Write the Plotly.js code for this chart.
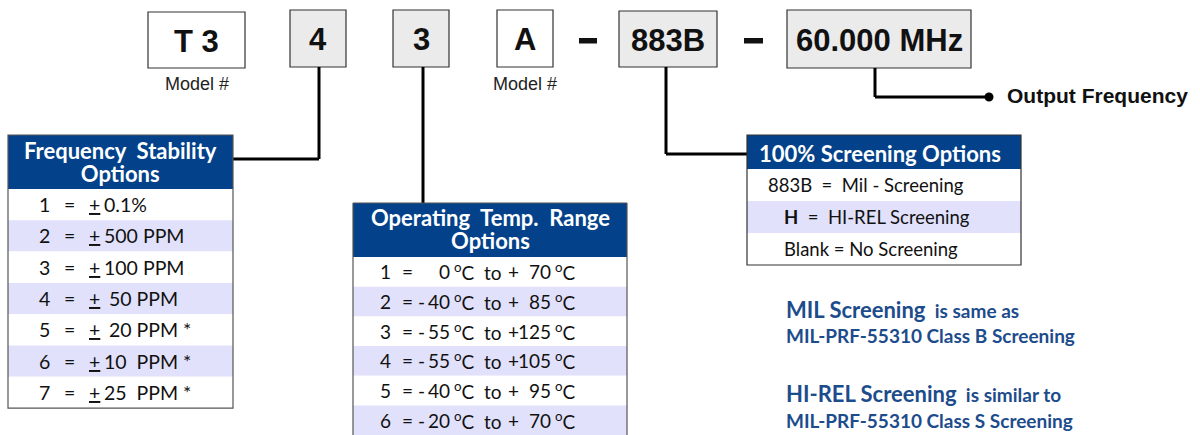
<!DOCTYPE html>
<html>
<head>
<meta charset="utf-8">
<script src="https://cdn.plot.ly/plotly-3.0.1.min.js"></script>
<style>html,body{margin:0;padding:0;background:#fff;}#chart{width:1200px;height:435px;}</style>
</head>
<body>
<div id="chart"></div>
<script>
// ---------- DATA ----------
const partCodes = ["T 3", "4", "3", "A", "883B", "60.000 MHz"];
const partCaptions = ["Model #", "", "", "Model #", "", ""];
const outputLabel = "Output Frequency";

const stabilityTitle = ["Frequency\u00a0 Stability", "Options"];
const stabilityCodes = ["1", "2", "3", "4", "5", "6", "7"];
const stabilityValues = ["0.1%", "500 PPM", "100 PPM", "\u00a050 PPM", "\u00a020 PPM *", "10\u00a0 PPM *", "25\u00a0 PPM *"];

const tempTitle = ["Operating\u00a0 Temp.\u00a0 Range", "Options"];
const tempCodes = ["1", "2", "3", "4", "5", "6"];
const tempFrom = [0, -40, -55, -55, -40, -20];
const tempTo = [70, 85, 125, 105, 95, 70];

const screeningTitle = "100% Screening Options";
const screeningCodes = ["883B", "H", "Blank"];
const screeningDesc = ["Mil - Screening", "HI-REL Screening", "No Screening"];

const noteLines = [
  ["MIL Screening", "is same as"],
  ["MIL-PRF-55310 Class B Screening", ""],
  ["HI-REL Screening", "is similar to"],
  ["MIL-PRF-55310 Class S Screening", ""]
];

// ---------- LAYOUT / STYLE ----------
const NAVY = "#03428a";
const SHADE = "#e1e1fb";
const GRAY = "#ebebeb";
const NOTE = "#1d4c8c";
const CAL = "Lato, 'Open Sans', sans-serif";
const ARIAL = "'Liberation Sans', Arial, sans-serif";
const ROW = 19.5, TROW = 19, HEAD = 22;

const partBoxes = [
  {x0: 148, x1: 245, y0: 12, y1: 68, fill: "#ffffff"},
  {x0: 290, x1: 346, y0: 10, y1: 67, fill: GRAY},
  {x0: 393, x1: 449, y0: 10, y1: 67, fill: GRAY},
  {x0: 497, x1: 553, y0: 10, y1: 67, fill: "#ffffff"},
  {x0: 619, x1: 717, y0: 11, y1: 67, fill: GRAY},
  {x0: 787, x1: 971, y0: 10, y1: 68, fill: GRAY}
];
const dashes = [[579, 597], [744, 763]];

const shapes = [];
const ann = [];
function rect(x0, y0, x1, y1, fill, lineColor, lw) {
  shapes.push({type: "rect", xref: "x", yref: "y", x0, y0, x1, y1,
    fillcolor: fill, line: {color: lineColor || "rgba(0,0,0,0)", width: lw || 0}, layer: "below"});
}
function line(pts, w) {
  for (let i = 0; i < pts.length - 1; i++) {
    shapes.push({type: "line", xref: "x", yref: "y", x0: pts[i][0], y0: pts[i][1],
      x1: pts[i + 1][0], y1: pts[i + 1][1], line: {color: "#000", width: w || 3}});
  }
}
function txt(x, y, text, size, opts) {
  opts = opts || {};
  ann.push({xref: "x", yref: "y", x, y, text, showarrow: false,
    xanchor: opts.xa || "left", yanchor: "middle",
    font: {family: opts.family || CAL, size, color: opts.color || "#111"}});
}
// two-line header: base font small so that line spacing (1.3em) is tight, glyphs drawn at HEAD size
function header2(x, y, lines) {
  const s = lines.map(l => "<span style='font-size:" + HEAD + "px'>" + l + "</span>").join("<br>");
  txt(x, y, "<b>" + s + "</b>", 17.8, {xa: "center", color: "#fff"});
}

// top part-number boxes
partCodes.forEach((c, i) => {
  const b = partBoxes[i];
  rect(b.x0, b.y0, b.x1, b.y1, b.fill, "#333", 1.2);
  txt((b.x0 + b.x1) / 2, (b.y0 + b.y1) / 2 + 1, "<b>" + c + "</b>", 31, {xa: "center", family: ARIAL, color: "#111"});
  if (partCaptions[i]) txt((b.x0 + b.x1) / 2, 84, partCaptions[i], 18, {xa: "center", family: ARIAL, color: "#222"});
});
dashes.forEach(d => rect(d[0], 38, d[1], 43.5, "#111"));

// connectors
line([[319, 67], [319, 159], [233, 159]]);
line([[423, 67], [423, 203]]);
line([[666, 67], [666, 154], [747, 154]]);
line([[875, 68], [875, 97], [989, 97]]);
shapes.push({type: "circle", xref: "x", yref: "y", x0: 984.5, x1: 993.5, y0: 92.5, y1: 101.5, fillcolor: "#000", line: {width: 0}});
txt(1005, 95, "<b>" + outputLabel + "</b>", 21, {family: ARIAL, color: "#111"});

// Frequency stability table
{
  const x0 = 8, x1 = 233, hy0 = 135, hy1 = 189, rh = 31.3;
  rect(x0, hy0, x1, hy1, NAVY);
  stabilityCodes.forEach((c, i) => {
    const y0 = hy1 + i * rh;
    rect(x0, y0, x1, y0 + rh, i % 2 ? SHADE : "#ffffff");
    const yc = y0 + rh / 2;
    txt(37, yc, c, ROW);
    txt(62, yc, "=", ROW);
    txt(87, yc, "<u>+</u>", ROW);
    txt(102, yc, stabilityValues[i], ROW);
  });
  const yb = hy1 + stabilityCodes.length * rh;
  shapes.push({type: "rect", xref: "x", yref: "y", x0, y0: hy0, x1, y1: yb, line: {color: "#555", width: 1.2}, fillcolor: "rgba(0,0,0,0)"});
  header2((x0 + x1) / 2, 162, stabilityTitle);
}

// Operating temperature table
{
  const x0 = 353, x1 = 627, hy0 = 203, hy1 = 257, rh = 29.7;
  rect(x0, hy0, x1, hy1, NAVY);
  tempCodes.forEach((c, i) => {
    const y0 = hy1 + i * rh;
    rect(x0, y0, x1, y0 + rh + (i === tempCodes.length - 1 ? 20 : 0), i % 2 ? SHADE : "#ffffff");
    const yc = y0 + rh / 2;
    const f = tempFrom[i];
    txt(378, yc, c, TROW);
    txt(400, yc, "=", TROW);
    if (f < 0) txt(416, yc, "-", TROW);
    txt(452, yc, String(Math.abs(f)), TROW, {xa: "right"});
    txt(452, yc, "<sup>o</sup>C\u00a0 to", TROW);
    txt(506, yc, "+", TROW);
    txt(553, yc, String(tempTo[i]), TROW, {xa: "right"});
    txt(553, yc, "<sup>o</sup>C", TROW);
  });
  shapes.push({type: "line", xref: "x", yref: "y", x0, x1: x0, y0: hy0, y1: 440, line: {color: "#555", width: 1.2}});
  shapes.push({type: "line", xref: "x", yref: "y", x0: x1, x1, y0: hy0, y1: 440, line: {color: "#555", width: 1.2}});
  shapes.push({type: "line", xref: "x", yref: "y", x0, x1, y0: hy0, y1: hy0, line: {color: "#555", width: 1.2}});
  header2((x0 + x1) / 2, 229, tempTitle);
}

// Screening table
{
  const x0 = 747, x1 = 1021, hy0 = 135, hy1 = 169, rh = 32;
  rect(x0, hy0, x1, hy1, NAVY);
  screeningCodes.forEach((c, i) => {
    const y0 = hy1 + i * rh;
    rect(x0, y0, x1, y0 + rh, i % 2 ? SHADE : "#ffffff");
    const yc = y0 + rh / 2;
    let s;
    if (i === 0) s = c + "\u00a0 =\u00a0 " + screeningDesc[i];
    else if (i === 1) s = "<b>" + c + "</b>\u00a0 =\u00a0 " + screeningDesc[i];
    else s = c + " = " + screeningDesc[i];
    txt(i === 0 ? 766 : 782, yc, s, 18.5);
  });
  shapes.push({type: "rect", xref: "x", yref: "y", x0, y0: hy0, x1, y1: hy1 + 3 * rh, line: {color: "#333", width: 1.2}, fillcolor: "rgba(0,0,0,0)"});
  txt(757, 153, "<b>" + screeningTitle + "</b>", HEAD, {color: "#fff"});
}

// notes
{
  const ys = [309, 335, 393, 420];
  noteLines.forEach((nl, i) => {
    let s = nl[1] ? "<b><span style='font-size:22px'>" + nl[0] + "</span>\u00a0 " + nl[1] + "</b>" : "<b>" + nl[0] + "</b>";
    txt(784, ys[i], s, 19, {color: NOTE});
  });
}

const layout = {
  width: 1200, height: 435,
  margin: {l: 0, r: 0, t: 0, b: 0},
  paper_bgcolor: "#fff", plot_bgcolor: "#fff",
  xaxis: {range: [0, 1200], visible: false, fixedrange: true},
  yaxis: {range: [435, 0], visible: false, fixedrange: true},
  showlegend: false,
  shapes, annotations: ann
};
Plotly.newPlot("chart", [], layout, {staticPlot: true, displayModeBar: false});
</script>
</body>
</html>
